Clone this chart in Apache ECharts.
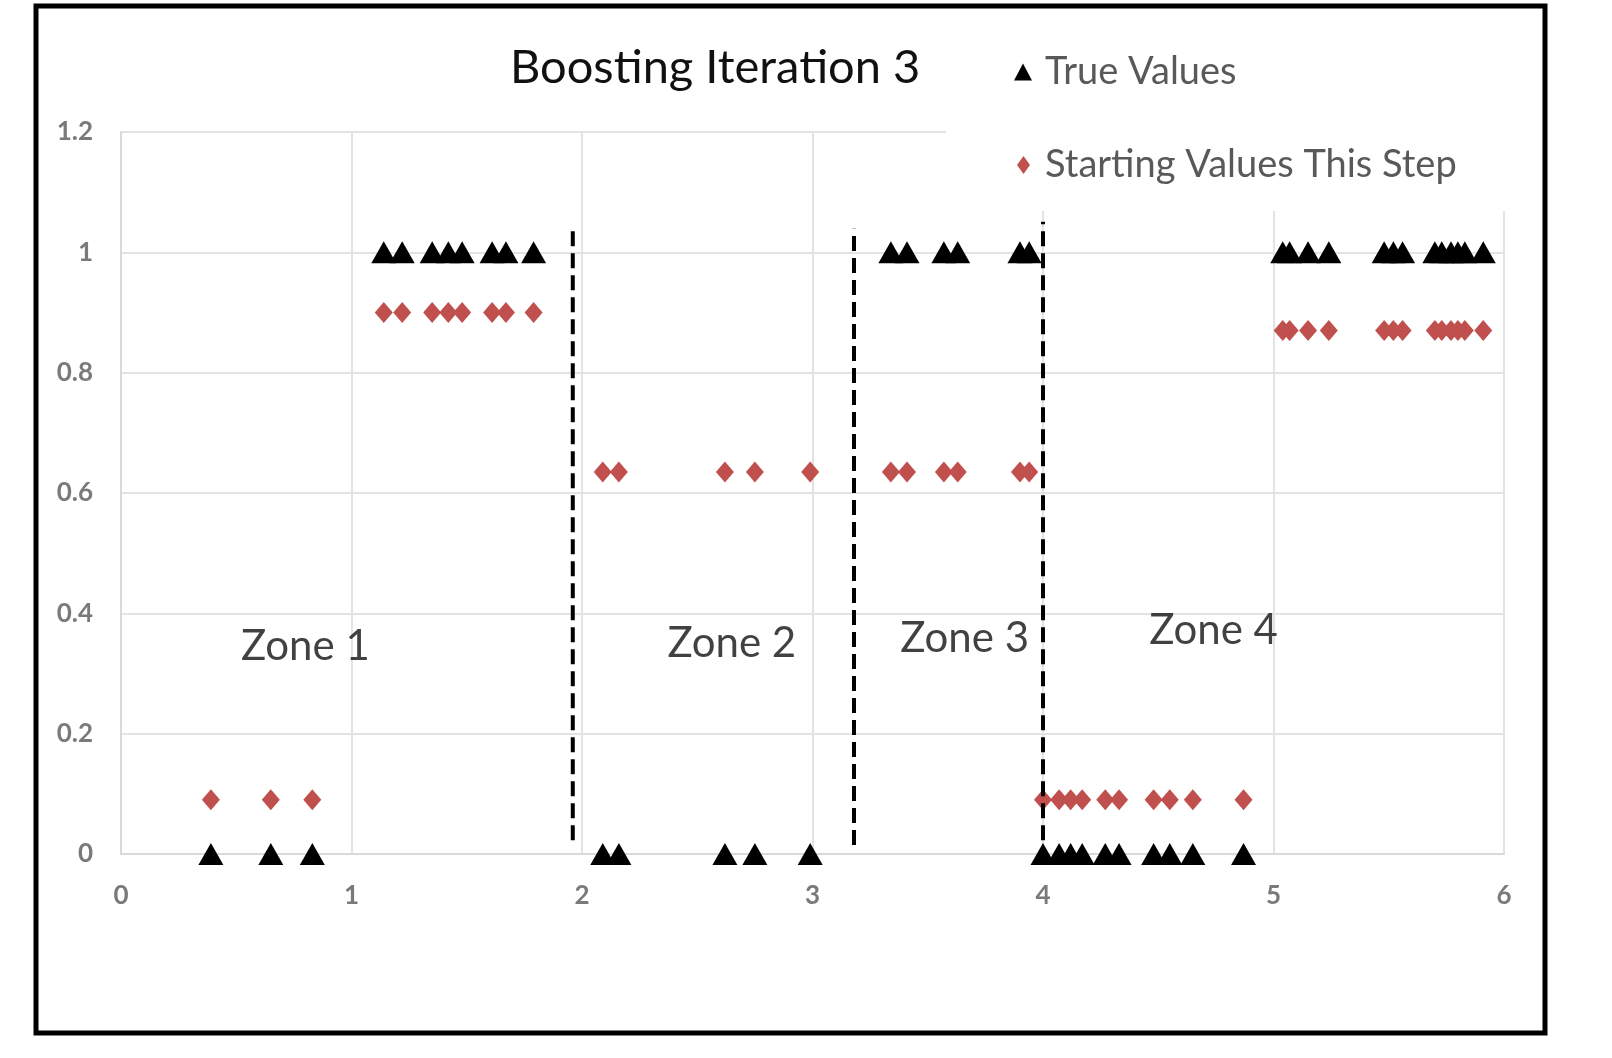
<!DOCTYPE html>
<html>
<head>
<meta charset="utf-8">
<title>Boosting Iteration 3</title>
<script src="https://cdn.jsdelivr.net/npm/echarts@6/dist/echarts.min.js"></script>
<style>
  html, body { margin: 0; padding: 0; background: #fff; }
  #main { width: 1612px; height: 1058px; }
</style>
</head>
<body>
<div id="main"></div>
<script>
// x position of every point, left to right
var xValues = [
    0.39, 0.65, 0.83,
    1.14, 1.22, 1.35, 1.42, 1.48, 1.61, 1.67, 1.79,
    2.09, 2.16, 2.62, 2.75, 2.99,
    3.34, 3.41, 3.57, 3.63, 3.90, 3.94,
    4.00, 4.07, 4.12, 4.17, 4.27, 4.33, 4.48, 4.55, 4.65, 4.87,
    5.04, 5.07, 5.15, 5.24, 5.48, 5.52, 5.56, 5.70, 5.73, 5.77, 5.80, 5.83, 5.91
];
var trueValues = [
    0, 0, 0,
    1, 1, 1, 1, 1, 1, 1, 1,
    0, 0, 0, 0, 0,
    1, 1, 1, 1, 1, 1,
    0, 0, 0, 0, 0, 0, 0, 0, 0, 0,
    1, 1, 1, 1, 1, 1, 1, 1, 1, 1, 1, 1, 1
];
var startValues = [
    0.09, 0.09, 0.09,
    0.9, 0.9, 0.9, 0.9, 0.9, 0.9, 0.9, 0.9,
    0.635, 0.635, 0.635, 0.635, 0.635,
    0.635, 0.635, 0.635, 0.635, 0.635, 0.635,
    0.09, 0.09, 0.09, 0.09, 0.09, 0.09, 0.09, 0.09, 0.09, 0.09,
    0.87, 0.87, 0.87, 0.87, 0.87, 0.87, 0.87, 0.87, 0.87, 0.87, 0.87, 0.87, 0.87
];

// dashed zone boundaries
var boundaryX = [1.96, 3.18, 4.0];
var boundaryLow = [0.023, 0.015, 0.023];
var boundaryHigh = [1.042, 1.039, 1.051];

// zone captions
var zoneNames = ['Zone 1', 'Zone 2', 'Zone 3', 'Zone 4'];
var zoneX = [0.80, 2.65, 3.66, 4.74];
var zoneY = [0.345, 0.35, 0.358, 0.372];

var seriesNames = ['True Values', 'Starting Values This Step'];

var myChart = echarts.init(document.getElementById('main'));

var truePoints = xValues.map(function (x, i) { return [x, trueValues[i]]; });
var startPoints = xValues.map(function (x, i) { return [x, startValues[i]]; });
var zonePoints = zoneNames.map(function (n, i) { return [zoneX[i], zoneY[i], n]; });

var series = [
    {
        name: seriesNames[0],
        type: 'scatter',
        symbol: 'triangle',
        symbolSize: [25, 22],
        itemStyle: { color: '#000', opacity: 1 },
        data: truePoints,
        z: 2
    },
    {
        name: seriesNames[1],
        type: 'scatter',
        symbol: 'diamond',
        symbolSize: [18, 21],
        itemStyle: { color: '#c0504d', opacity: 1 },
        data: startPoints,
        z: 2
    },
    {
        name: 'zones',
        type: 'scatter',
        symbolSize: 0,
        silent: true,
        data: zonePoints,
        label: {
            show: true,
            position: 'inside',
            formatter: function (p) { return p.data[2]; },
            color: '#111',
            fontFamily: 'Lato',
            fontSize: 42
        }
    }
];

boundaryX.forEach(function (bx, i) {
    series.push({
        name: 'boundary' + i,
        type: 'line',
        showSymbol: false,
        silent: true,
        z: 3,
        lineStyle: { color: '#000', width: 4, type: [15, 7] },
        data: [[bx, boundaryLow[i]], [bx, boundaryHigh[i]]]
    });
});

var legendText = {
    fontFamily: 'Lato',
    fontSize: 38,
    lineHeight: 44,
    color: '#595959'
};

option = {
    backgroundColor: '#fff',
    animation: false,
    title: {
        text: 'Boosting Iteration 3',
        left: 510,
        top: 40,
        padding: 0,
        textStyle: {
            fontFamily: 'Lato',
            fontWeight: 'normal',
            fontSize: 47,
            lineHeight: 56,
            color: '#111'
        }
    },
    legend: [
        {
            data: [seriesNames[0]],
            left: 1014,
            top: 50,
            padding: 0,
            itemWidth: 18,
            itemHeight: 17,
            selectedMode: false,
            textStyle: Object.assign({ padding: [0, 0, 0, 8] }, legendText)
        },
        {
            data: [seriesNames[1]],
            left: 1017,
            top: 143,
            padding: 0,
            itemWidth: 13,
            itemHeight: 18,
            selectedMode: false,
            textStyle: Object.assign({ padding: [0, 0, 0, 10] }, legendText)
        }
    ],
    grid: {
        left: 121,
        right: 108,
        top: 132,
        bottom: 204
    },
    xAxis: {
        type: 'value',
        min: 0,
        max: 6,
        interval: 1,
        axisLine: { show: true, lineStyle: { color: '#d9d9d9', width: 2 } },
        axisTick: { show: false },
        splitLine: { show: true, lineStyle: { color: '#e3e3e3', width: 2 } },
        axisLabel: {
            margin: 29,
            color: '#7a7a7a',
            fontFamily: 'Lato',
            fontWeight: 'bold',
            fontSize: 26
        }
    },
    yAxis: {
        type: 'value',
        min: 0,
        max: 1.2,
        interval: 0.2,
        axisLine: { show: true, lineStyle: { color: '#d9d9d9', width: 2 } },
        axisTick: { show: false },
        splitLine: { show: true, lineStyle: { color: '#e3e3e3', width: 2 } },
        axisLabel: {
            margin: 28,
            color: '#7a7a7a',
            fontFamily: 'Lato',
            fontWeight: 'bold',
            fontSize: 26
        }
    },
    graphic: [
        {
            // white box behind the legend, hides the gridlines there
            type: 'rect',
            z: 1,
            silent: true,
            shape: { x: 946, y: 100, width: 592, height: 111 },
            style: { fill: '#fff' }
        },
        {
            // frame round the whole picture
            type: 'rect',
            z: 10,
            silent: true,
            shape: { x: 36, y: 6, width: 1509, height: 1027 },
            style: { fill: 'none', stroke: '#000', lineWidth: 5 }
        }
    ],
    series: series
};

myChart.setOption(option);
</script>
</body>
</html>
